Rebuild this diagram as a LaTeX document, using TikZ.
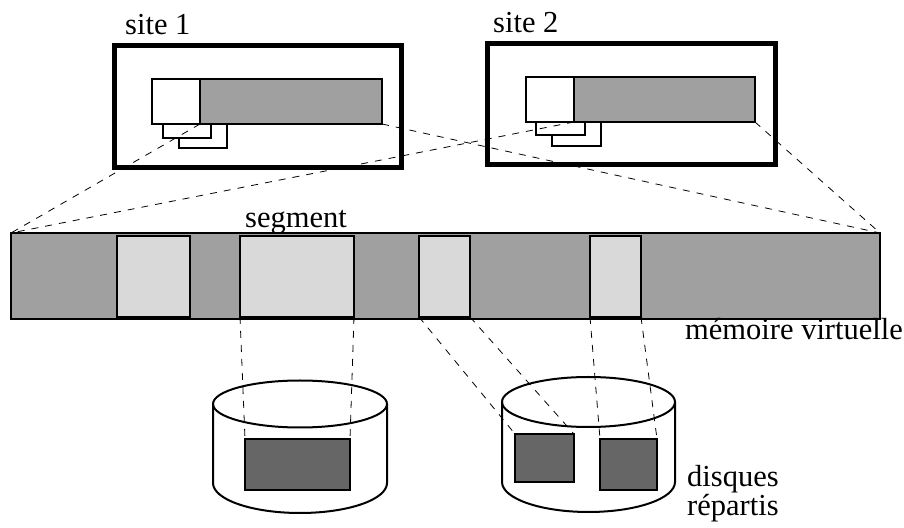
\documentclass[tikz,border=0pt]{standalone}
\usepackage{fontspec}
\setmainfont{Liberation Serif}
\usetikzlibrary{shapes, arrows, positioning}
\definecolor{bargray}{HTML}{A0A0A0}
\definecolor{seggray}{HTML}{D9D9D9}
\definecolor{diskgray}{HTML}{666666}
\tikzstyle{sitebox} = [rectangle, draw=black, line width=5pt, fill=white, inner sep=0pt, outer sep=0pt, anchor=south west]
\tikzstyle{blk} = [rectangle, draw=black, line width=2pt, inner sep=0pt, outer sep=0pt, anchor=south west]
\tikzstyle{seg} = [blk, fill=seggray, line width=2.8pt, minimum height=81pt]
\tikzstyle{tag} = [font=\fontsize{30.5}{28}\selectfont, inner sep=0pt, anchor=base west]
\tikzstyle{link} = [line width=0.8pt, dash pattern=on 7pt off 7pt]
\tikzstyle{disk} = [line width=2pt]

\begin{document}
\begin{tikzpicture}[x=1pt, y=1pt]
\useasboundingbox (0,0) rectangle (904,527);

% the two sites
\node (site1) [sitebox, minimum width=287.5pt, minimum height=122pt] at (114,359.5) {};
\node (site2) [sitebox, minimum width=288pt, minimum height=121.5pt] at (487,362) {};
\node (name1) [tag] at (125,492) {site 1};
\node (name2) [tag] at (493,494) {site 2};

% site 1
\node (tabB1) [blk, fill=white, minimum width=48pt, minimum height=24pt] at (179,379) {};
\node (tabA1) [blk, fill=white, minimum width=48pt, minimum height=14pt] at (163,389) {};
\node (head1) [blk, fill=white, minimum width=48pt, minimum height=45pt] at (152,403) {};
\node (bar1) [blk, fill=bargray, minimum width=182pt, minimum height=45pt] at (200,403) {};

% site 2
\node (tabB2) [blk, fill=white, minimum width=49pt, minimum height=24pt] at (552,381) {};
\node (tabA2) [blk, fill=white, minimum width=49pt, minimum height=13pt] at (536,392) {};
\node (head2) [blk, fill=white, minimum width=48pt, minimum height=45pt] at (526,405) {};
\node (bar2) [blk, fill=bargray, minimum width=181pt, minimum height=45pt] at (574,405) {};

% virtual memory
\node (mem) [blk, fill=bargray, minimum width=869pt, minimum height=86pt] at (11,208) {};
\node (seg1) [seg, minimum width=73pt] at (117,210) {};
\node (seg2) [seg, minimum width=114pt] at (240,210) {};
\node (seg3) [seg, minimum width=51pt] at (419,210) {};
\node (seg4) [seg, minimum width=51pt] at (590,210) {};
\node (segname) [tag] at (245,299) {segment};
\node (memname) [tag] at (685,187) {mémoire virtuelle};

% disks
\draw [disk] (300,123) ellipse [x radius=87, y radius=23.5];
\draw [disk] (213,123) -- (213,44) arc [start angle=180, end angle=360, x radius=87, y radius=30] -- (387,123);
\draw [disk] (588.5,125) ellipse [x radius=86.5, y radius=25];
\draw [disk] (502,125) -- (502,45) arc [start angle=180, end angle=360, x radius=86.5, y radius=30] -- (675,125);
\node (blk1) [blk, fill=diskgray, minimum width=105pt, minimum height=51pt] at (245,37) {};
\node (blk2) [blk, fill=diskgray, minimum width=59pt, minimum height=48pt] at (515,45) {};
\node (blk3) [blk, fill=diskgray, minimum width=57pt, minimum height=51pt] at (600,37) {};
\node (diskname1) [tag] at (687,40) {disques};
\node (diskname2) [tag] at (687,12) {répartis};

% projections
\draw [link] (bar1.south west) -- (mem.north west);
\draw [link] (bar2.south west) -- (mem.north west);
\draw [link] (bar1.south east) -- (mem.north east);
\draw [link] (bar2.south east) -- (mem.north east);

\draw [link] (seg2.south west) -- (blk1.north west);
\draw [link] (seg2.south east) -- (blk1.north east);
\draw [link] (seg3.south west) -- (blk2.north west);
\draw [link] (seg3.south east) -- (blk2.north east);
\draw [link] (seg4.south west) -- (blk3.north west);
\draw [link] (seg4.south east) -- (blk3.north east);

\end{tikzpicture}
\end{document}
